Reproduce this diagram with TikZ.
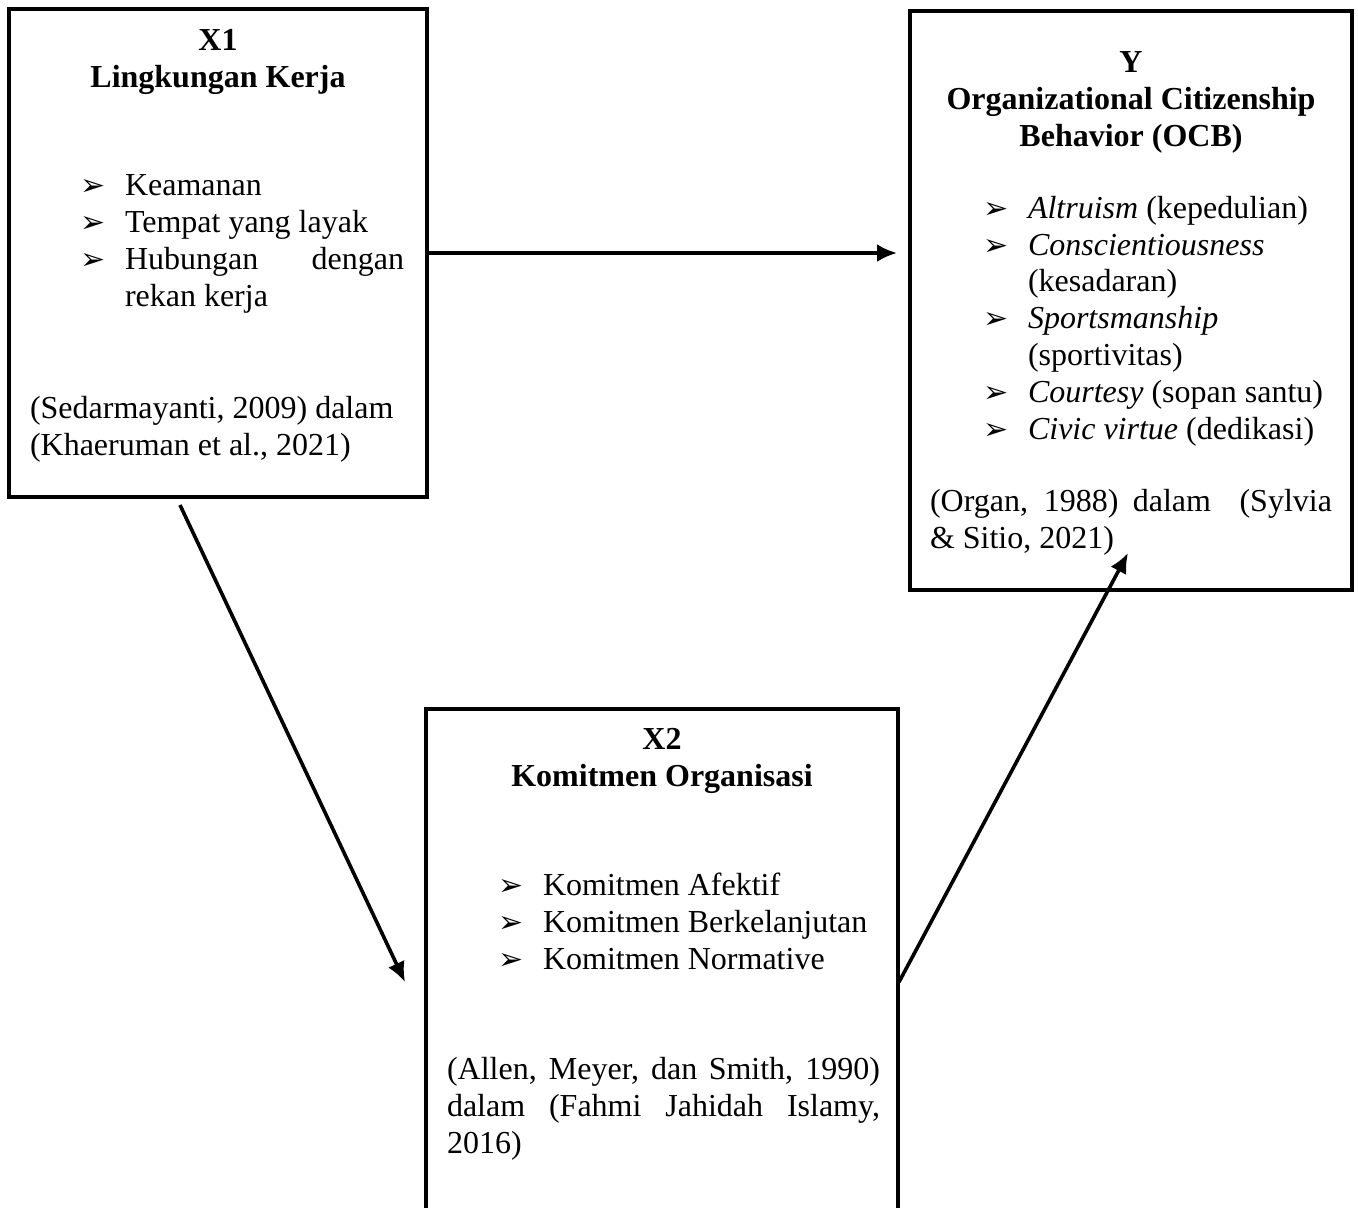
\documentclass[tikz,border=0pt]{standalone}
\usepackage{fontspec}
\setmainfont{Liberation Serif}
\newfontfamily\dingfont{DejaVu Sans}
\usetikzlibrary{arrows.meta,positioning}
\newcommand{\bul}{\makebox[22.5pt][l]{\dingfont\fontsize{15}{15}\selectfont ➢}}
\newcommand{\cont}{\hspace*{22.5pt}}

\begin{document}
\begin{tikzpicture}[x=0.5pt,y=-0.5pt,
        every node/.style={inner sep=0pt,outer sep=0pt,font=\fontsize{16}{18.4}\selectfont},
        frame/.style={line width=2pt},
        box/.style={frame,draw,anchor=north west},
        title/.style={align=center,anchor=base,font=\fontsize{16}{18.4}\selectfont\bfseries},
        items/.style={align=left,anchor=base west},
        cite/.style={align=left,anchor=base west},
        link/.style={line width=1.8pt,-{Latex[length=10pt,width=9pt]}}]
        \useasboundingbox (0,0) rectangle (1358,1207);
        \node[box,minimum width=209pt,minimum height=244pt] (x1) at (9,9) {};
        \node[box,minimum width=221pt,minimum height=289.5pt] (y) at (910,11) {};
        \node[anchor=north west,minimum width=236pt,minimum height=255.5pt] (x2) at (426,709) {};
        \draw[frame] (x2.south west) -- (x2.north west) -- (x2.north east) -- (x2.south east);
        \node[title] (x1title) at (218,87) {X1\\Lingkungan Kerja};
        \node[items] (x1items) at (80,306) {\bul Keamanan\\\bul Tempat yang layak\\\bul\makebox[139.5pt][l]{Hubungan\hfill dengan}\\\cont rekan kerja};
        \node[cite] (x1cite) at (30,455) {(Sedarmayanti, 2009) dalam\\(Khaeruman et al., 2021)};
        \node[title] (ytitle) at (1131,146) {Y\\Organizational Citizenship\\Behavior (OCB)};
        \node[items] (yitems) at (983,439) {\bul\textit{Altruism} (kepedulian)\\\bul\textit{Conscientiousness}\\\cont(kesadaran)\\\bul\textit{Sportsmanship}\\\cont(sportivitas)\\\bul\textit{Courtesy} (sopan santu)\\\bul\textit{Civic virtue} (dedikasi)};
        \node[cite] (ycite) at (930,548) {\makebox[201pt][s]{(Organ, 1988) dalam\ \ (Sylvia}\\\& Sitio, 2021)};
        \node[title] (x2title) at (662,786) {X2\\Komitmen Organisasi};
        \node[items] (x2items) at (498,969) {\bul Komitmen Afektif\\\bul Komitmen Berkelanjutan\\\bul Komitmen Normative};
        \node[cite] (x2cite) at (447,1153) {\makebox[216.5pt][s]{(Allen, Meyer, dan Smith, 1990)}\\\makebox[216.5pt][s]{dalam (Fahmi Jahidah Islamy,}\\2016)};
        \coordinate (a1) at (180,505);
        \coordinate (a2) at (405,982);
        \coordinate (b1) at (899,982);
        \coordinate (b2) at (1128,553);
        \draw[link,shorten >=6.5pt] (x1.east) -- (x1.east -| y.west);
        \draw[link] (a1) -- (a2);
        \draw[link] (b1) -- (b2);
    \end{tikzpicture}
\end{document}
